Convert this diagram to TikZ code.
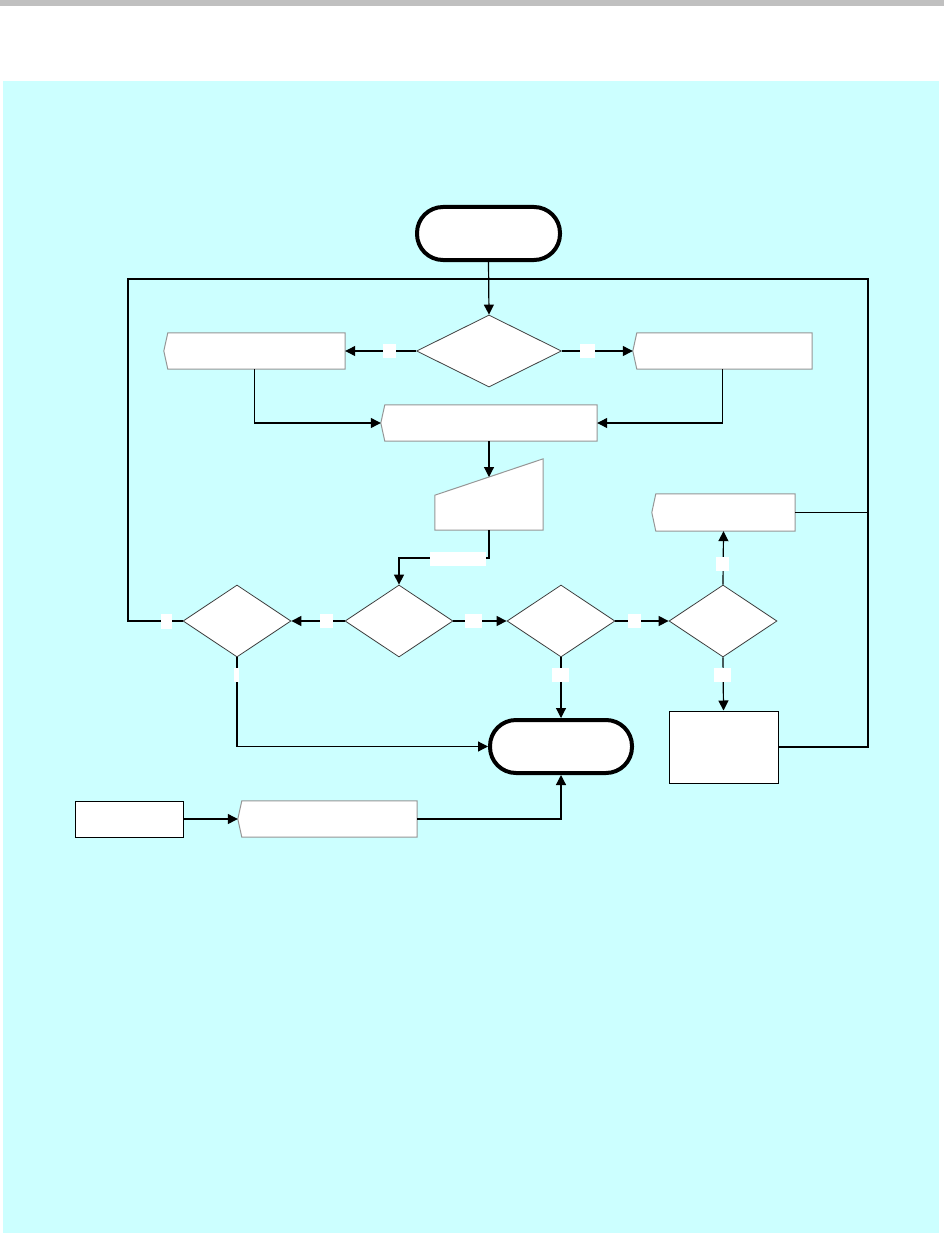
\documentclass[tikz,border=0pt]{standalone}
\usetikzlibrary{arrows.meta,shapes.geometric,calc}
\definecolor{panel}{RGB}{204,255,255}
\definecolor{barg}{RGB}{192,192,192}
\definecolor{dgray}{RGB}{64,64,64}
\definecolor{lgray}{RGB}{150,150,150}
\tikzset{
 term/.style={rectangle,draw=black,line width=4pt,fill=white,rounded corners=26pt,minimum width=143pt,minimum height=53pt,inner sep=0pt},
 dec/.style={diamond,draw=dgray,line width=0.8pt,fill=white,minimum width=108pt,minimum height=72pt,inner sep=0pt},
 dispbox/.style={rectangle,draw=none,minimum height=36pt,inner sep=0pt},
 displine/.style={draw=lgray,line width=1pt,fill=white},
 procbox/.style={rectangle,draw=black,line width=1pt,fill=white,inner sep=0pt},
 conn/.style={line width=1.2pt,draw=black},
 arr/.style={conn,-{Triangle[length=10pt,width=10pt]}},
 lbl/.style={rectangle,fill=white,draw=none,inner sep=0pt,minimum height=14pt},
}
\newcommand\dispshape[1]{\path[displine] ($(#1.north west)+(4,0)$) -- (#1.north east) -- (#1.south east) -- ($(#1.south west)+(4,0)$) -- (#1.west) -- cycle;}
\begin{document}
\begin{tikzpicture}[x=1pt,y=-1pt]
\useasboundingbox (0,0) rectangle (944,1233);
\fill[white] (0,0) rectangle (944,1233);
\fill[barg] (0,0) rectangle (944,6);
\fill[panel] (3,81) rectangle (939,1233);

% nodes
\node[term] (start) at (488.5,233.5) {};
\node[dec,minimum width=145pt] (dec1) at (489,351) {};
\node[dispbox,minimum width=181pt] (d1) at (254.5,351) {};
\dispshape{d1}
\node[dispbox,minimum width=179pt] (d2) at (722.5,351) {};
\dispshape{d2}
\node[dispbox,minimum width=216pt] (d3) at (489,423) {};
\dispshape{d3}
\node[dispbox,minimum width=108pt,minimum height=71pt] (mi) at (489,494.5) {};
\path[displine] (mi.south west) -- (mi.south east) -- (mi.north east) -- ($(mi.south west)+(0,-35)$) -- cycle;
\coordinate (mitop) at (489,477);
\node[dec] (decA) at (237,621) {};
\node[dec] (decB) at (399,621) {};
\node[dec] (decC) at (561,621) {};
\node[dec] (decD) at (723,621) {};
\node[dispbox,minimum width=143pt,minimum height=37pt] (d4) at (723.5,512.5) {};
\dispshape{d4}
\node[procbox,minimum width=109pt,minimum height=72pt] (proc) at (723.5,747) {};
\node[term,minimum width=142pt] (end) at (561,746.5) {};
\node[procbox,minimum width=108pt,minimum height=36pt] (b0) at (129,819) {};
\node[dispbox,minimum width=179pt] (d5) at (327.5,819) {};
\dispshape{d5}

\coordinate (loopL) at (128,279);
\coordinate (loopR) at (868,279);
\coordinate (bend) at (489,558);

% connectors
\draw[arr] (start.south) -- (dec1.north);
\draw[arr] (dec1.west) -- (d1.east);
\draw[arr] (dec1.east) -- (d2.west);
\draw[arr] (d1.south) |- (d3.west);
\draw[arr] (d2.south) |- (d3.east);
\draw[arr] (d3.south) -- (mitop);
\draw[arr] (mi.south) -- (bend) -| (decB.north);
\draw[arr] (decB.west) -- (decA.east);
\draw[arr] (decB.east) -- (decC.west);
\draw[arr] (decC.east) -- (decD.west);
\draw[conn] (decA.west) -| (loopL) -- (loopR) |- (proc.east);
\draw[conn] (d4.east) -- (d4.east -| loopR);
\draw[arr] (decA.south) |- (end.west);
\draw[arr] (decC.south) -- (end.north);
\draw[arr] (decD.north) -- (d4.south);
\draw[arr] (decD.south) -- (proc.north);
\draw[arr] (b0.east) -- (d5.west);
\draw[arr] (d5.east) -| (end.south);

% label boxes
\node[lbl,minimum width=13pt] (l1) at (389.5,351) {};
\node[lbl,minimum width=15pt] (l2) at (587,351) {};
\node[lbl,minimum width=56pt] (l3) at (458,559) {};
\node[lbl,minimum width=11pt,minimum height=15pt] (l4) at (166.5,621) {};
\node[lbl,minimum width=13pt] (l5) at (326.5,621) {};
\node[lbl,minimum width=17pt] (l6) at (473.5,621) {};
\node[lbl,minimum width=13pt] (l7) at (634.5,621) {};
\node[lbl,minimum width=5pt] (l8) at (236.5,675) {};
\node[lbl,minimum width=17pt] (l9) at (560.5,675) {};
\node[lbl,minimum width=13pt] (l10) at (722.5,564) {};
\node[lbl,minimum width=17pt] (l11) at (722.5,675) {};
\end{tikzpicture}
\end{document}
